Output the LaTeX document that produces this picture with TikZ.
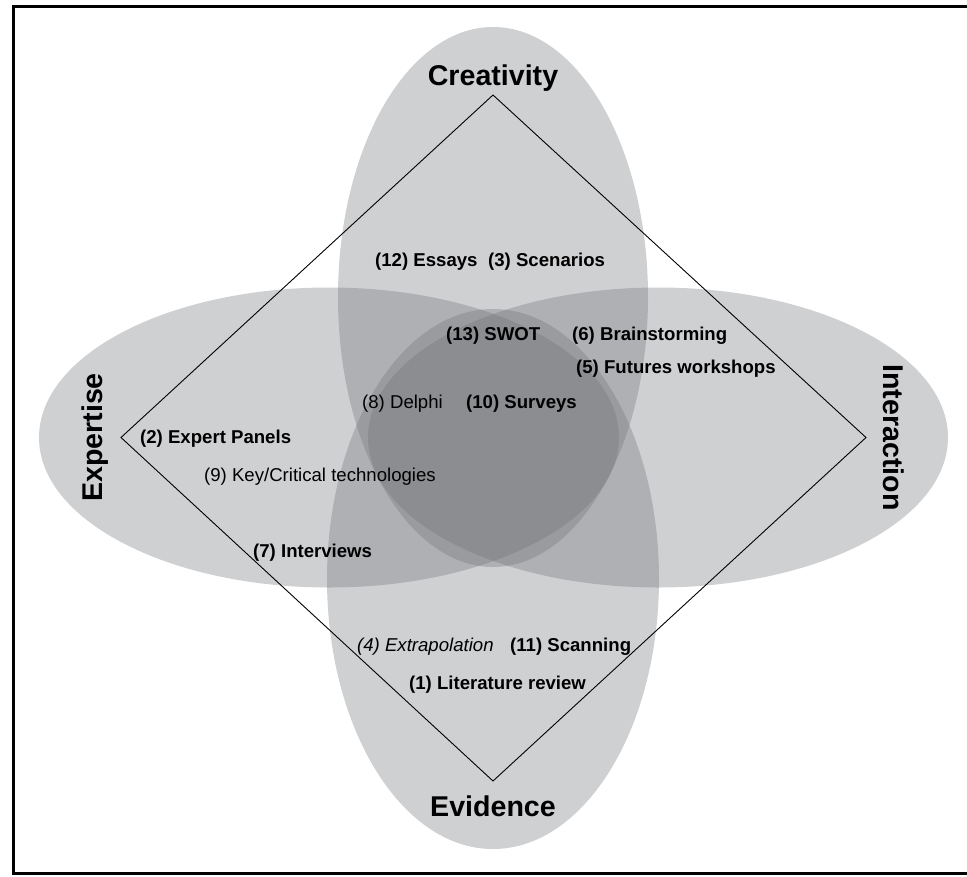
\documentclass[tikz,border=0pt]{standalone}
\usepackage{fontspec}
\setmainfont{Liberation Sans}
\definecolor{VennGray}{RGB}{110,112,117}
\newcommand{\lblsize}{\fontsize{18.6}{22}\selectfont}
\newcommand{\polesize}{\fontsize{28.6}{34}\selectfont\bfseries}

\begin{document}
\begin{tikzpicture}[
    x=1pt, y=-1pt,
    venn/.style={fill=VennGray, fill opacity=0.33},
    method/.style={font=\lblsize\bfseries, inner sep=0pt, anchor=base west},
    methodplain/.style={font=\lblsize, inner sep=0pt, anchor=base west},
    pole/.style={font=\polesize, inner sep=0pt}
]
\useasboundingbox (0,0) rectangle (967,876);

% Frame
\draw[line width=3pt] (967,6) -- (13,6) -- (13,873.5) -- (967,873.5);

% Ellipses
\fill[venn] (329,437.5) ellipse [x radius=290pt, y radius=150pt];
\fill[venn] (658,437.5) ellipse [x radius=290pt, y radius=150pt];
\fill[venn] (493,297) ellipse [x radius=155pt, y radius=270pt];
\fill[venn] (493,579) ellipse [x radius=166pt, y radius=270pt];

% Diamond
\coordinate (apexC) at (493,95);
\coordinate (apexI) at (866,437.5);
\coordinate (apexE) at (493,781);
\coordinate (apexX) at (121,437.5);
\draw[line width=0.9pt] (apexC) -- (apexI) -- (apexE) -- (apexX) -- cycle;

% Poles
\node[pole, anchor=base] (creativity) at (493,85) {Creativity};
\node[pole, anchor=base] (evidence) at (493,816) {Evidence};
\node[pole, rotate=90] (expertise) at (95,437.5) {Expertise};
\node[pole, rotate=-90] (interaction) at (894,437.5) {Interaction};

% Methods
\node[method] (essays) at (375,266.5) {(12) Essays};
\node[method] (scenarios) at (488,266.5) {(3) Scenarios};
\node[method] (swot) at (446,340.5) {(13) SWOT};
\node[method] (brainstorm) at (572,340.5) {(6) Brainstorming};
\node[method] (workshops) at (576,373.5) {(5) Futures workshops};
\node[methodplain] (delphi) at (362,408.5) {(8) Delphi};
\node[method] (surveys) at (466,408.5) {(10) Surveys};
\node[method] (panels) at (140,443.5) {(2) Expert Panels};
\node[methodplain] (keytech) at (204,481.5) {(9) Key/Critical technologies};
\node[method] (interviews) at (253,557.5) {(7) Interviews};
\node[methodplain, font=\lblsize\itshape] (extrapol) at (357,651) {(4) Extrapolation};
\node[method] (scanning) at (510,651) {(11) Scanning};
\node[method] (literature) at (409,689.5) {(1) Literature review};

\end{tikzpicture}
\end{document}
